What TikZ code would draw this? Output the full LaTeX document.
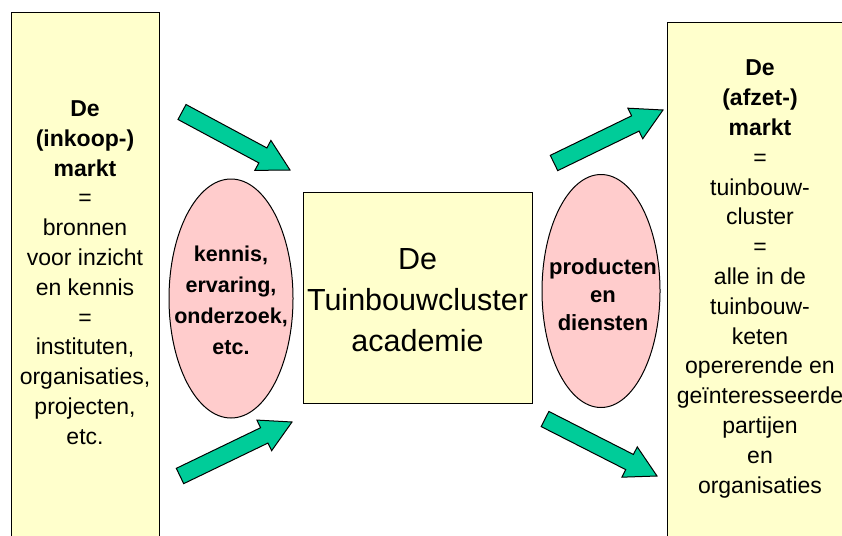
\documentclass[tikz,border=0pt]{standalone}
\usepackage{fontspec}
\setmainfont{Liberation Sans}
\usetikzlibrary{shapes.geometric,calc}

\definecolor{kaderGeel}{HTML}{FFFFCC}
\definecolor{ovaalRoze}{HTML}{FFCCCC}
\definecolor{pijlGroen}{HTML}{00CC99}

\tikzset{
  kader/.style={draw, line width=1pt, fill=kaderGeel, inner sep=0pt},
  ovaal/.style={draw, line width=1pt, fill=ovaalRoze, ellipse, inner sep=0pt},
  pijl/.style={draw, line width=1pt, fill=pijlGroen, line join=miter},
  tekst/.style={align=center, inner sep=0pt, font=\fontsize{23}{29.8}\selectfont},
  vettekst/.style={align=center, inner sep=0pt, font=\bfseries\fontsize{21.5}{31}\selectfont},
}

% blokpijl: staart, punt
\newcommand{\blokpijl}[2]{%
  \coordinate (#2-basis) at ($(#2)!30.8pt!(#1)$);
  \draw[pijl] ($(#1)!8.5pt!90:(#2)$) -- ($(#2-basis)!8.5pt!-90:(#1)$)
    -- ($(#2-basis)!17pt!-90:(#1)$) -- (#2) -- ($(#2-basis)!17pt!90:(#1)$)
    -- ($(#2-basis)!8.5pt!90:(#1)$) -- ($(#1)!8.5pt!-90:(#2)$) -- cycle;
}

\begin{document}
\begin{tikzpicture}[x=1pt, y=-1pt]
    \useasboundingbox (0,0) rectangle (842,535);

    % box inkoop
    \node[kader, anchor=north west, minimum width=148, minimum height=560] (inkoop) at (11,12) {};
    \node[tekst] (inkooptekst) at (85,272.5) {\textbf{De}\\ \textbf{(inkoop-)}\\ \textbf{markt}\\ =\\ bronnen\\ voor inzicht\\ en kennis\\ =\\ instituten,\\ organisaties,\\ projecten,\\ etc.};

    % box afzet
    \node[kader, anchor=north west, minimum width=200, minimum height=560] (afzet) at (667,22) {};
    \node[tekst] (afzettekst) at (760,279) {\textbf{De}\\ \textbf{(afzet-)}\\ \textbf{markt}\\ =\\ tuinbouw-\\ cluster\\ =\\ alle in de\\ tuinbouw-\\ keten\\ opererende en\\ geïnteresseerde\\ partijen\\ en\\ organisaties};

    % box academie
    \node[kader, minimum width=229, minimum height=211] (academie) at (417.5,297.5) {};
    \node[align=center, inner sep=0pt, font=\fontsize{30.5}{41}\selectfont] (academietekst) at ($(academie)+(0,3)$) {De\\ Tuinbouwcluster\\ academie};

    % ellips kennis
    \node[ovaal, minimum width=124, minimum height=239] (kennis) at (231,298.5) {};
    \node[vettekst] (kennistekst) at ($(kennis)+(0,1.5)$) {kennis,\\ ervaring,\\ onderzoek,\\ etc.};

    % ellips producten
    \node[ovaal, minimum width=118, minimum height=233] (producten) at (601,291) {};
    \node[vettekst, font=\bfseries\fontsize{22}{28}\selectfont] (productentekst) at ($(producten)+(2,4)$) {producten\\ en\\ diensten};

    % pijlen
    \coordinate (p1s) at (182,112);
    \coordinate (p1e) at (290,170);
    \coordinate (p2s) at (180,476);
    \coordinate (p2e) at (292,422);
    \coordinate (p3s) at (554,163);
    \coordinate (p3e) at (663,110);
    \coordinate (p4s) at (545,419);
    \coordinate (p4e) at (657,476);
    \blokpijl{p1s}{p1e}
    \blokpijl{p2s}{p2e}
    \blokpijl{p3s}{p3e}
    \blokpijl{p4s}{p4e}
\end{tikzpicture}
\end{document}
